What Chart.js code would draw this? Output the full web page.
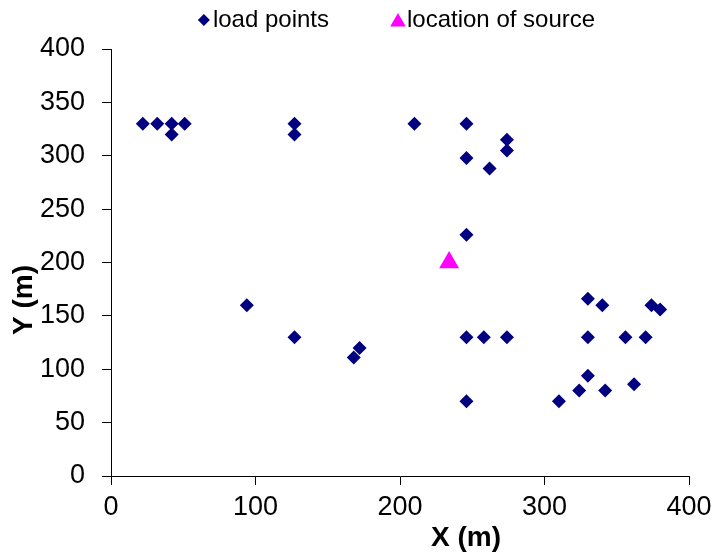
<!DOCTYPE html>
<html>
<head>
<meta charset="utf-8">
<script src="https://cdn.jsdelivr.net/npm/chart.js@4.4.1/dist/chart.umd.min.js"></script>
<style>
  html, body { margin: 0; padding: 0; background: #fff; }
</style>
</head>
<body>
<canvas id="chart-area" width="713" height="553"></canvas>
<script>
// load point coordinates (m)
var loadX = [22, 32, 42, 51, 42, 127, 127, 210, 246, 274, 274, 246, 262, 246,
             94, 127, 172, 168, 330, 340, 374, 380, 246, 258, 274, 330, 356, 370,
             330, 324, 342, 362, 246, 310];
var loadY = [330, 330, 330, 330, 320, 330, 320, 330, 330, 315, 305, 298, 288, 226,
             160, 130, 120, 111, 166, 160, 160, 156, 130, 130, 130, 130, 130, 130,
             94, 80, 80, 86, 70, 70];
// source location (m)
var sourceX = [234];
var sourceY = [200];

var xTicks = [0, 100, 200, 300, 400];
var yTicks = [0, 50, 100, 150, 200, 250, 300, 350, 400];

var toPoints = function(xs, ys) {
    return xs.map(function(x, i) { return {x: x, y: ys[i]}; });
};

var fontFamily = '"Liberation Sans", Arial, sans-serif';

// legend + axis titles drawn on the canvas
var extraText = {
    id: 'extraText',
    afterDraw: function(chart) {
        var ctx = chart.ctx;
        var area = chart.chartArea;
        ctx.save();
        ctx.fillStyle = '#000';
        ctx.font = 'bold 28px ' + fontFamily;
        ctx.textAlign = 'center';
        ctx.textBaseline = 'middle';
        ctx.fillText('X (m)', 466, 538);
        ctx.save();
        ctx.translate(24, 300);
        ctx.rotate(-Math.PI / 2);
        ctx.fillText('Y (m)', 0, 0);
        ctx.restore();

        // legend
        ctx.font = '24px ' + fontFamily;
        ctx.textAlign = 'left';
        var sets = chart.data.datasets;
        var gap = 58;
        var widths = sets.map(function(ds) { return 20 + ctx.measureText(ds.label).width; });
        var total = widths.reduce(function(a, b) { return a + b; }, 0) + gap * (sets.length - 1);
        var x = (area.left + area.right) / 2 - total / 2;
        var y = 20;
        sets.forEach(function(ds, i) {
            ctx.fillStyle = ds.backgroundColor;
            Chart.helpers.drawPoint(ctx, {
                pointStyle: ds.pointStyle,
                radius: ds.pointStyle === 'triangle' ? 9 : 6,
                rotation: 0,
                borderWidth: 0
            }, x + 5, ds.pointStyle === 'triangle' ? y + 2 : y);
            ctx.fillStyle = '#000';
            ctx.fillText(ds.label, x + 14, y);
            x += widths[i] + gap;
        });
        ctx.restore();
    }
};

var config = {
    type: 'scatter',
    data: {
        datasets: [{
            label: 'load points',
            data: toPoints(loadX, loadY),
            pointStyle: 'rectRot',
            pointRadius: 7,
            pointHoverRadius: 7,
            backgroundColor: '#000080',
            borderColor: '#000080',
            borderWidth: 0
        }, {
            label: 'location of source',
            data: toPoints(sourceX, sourceY),
            pointStyle: 'triangle',
            pointRadius: 11.5,
            pointHoverRadius: 11.5,
            backgroundColor: '#FF00FF',
            borderColor: '#FF00FF',
            borderWidth: 0
        }]
    },
    options: {
        responsive: false,
        animation: false,
        layout: {
            padding: {top: 49, right: 0, bottom: 0, left: 0}
        },
        plugins: {
            legend: {display: false},
            tooltip: {enabled: false}
        },
        scales: {
            x: {
                type: 'linear',
                min: 0,
                max: 400,
                afterFit: function(scale) {
                    scale.height = 77;
                    scale.paddingRight = 24;
                },
                afterBuildTicks: function(scale) {
                    scale.ticks = xTicks.map(function(v) { return {value: v}; });
                },
                grid: {
                    drawOnChartArea: false,
                    drawTicks: true,
                    tickLength: 9,
                    color: '#000'
                },
                border: {display: true, color: '#000', width: 1},
                ticks: {
                    color: '#000',
                    padding: 6,
                    maxRotation: 0,
                    font: {family: fontFamily, size: 27}
                }
            },
            y: {
                type: 'linear',
                min: 0,
                max: 400,
                afterFit: function(scale) { scale.width = 111; },
                afterBuildTicks: function(scale) {
                    scale.ticks = yTicks.map(function(v) { return {value: v}; });
                },
                grid: {
                    drawOnChartArea: false,
                    drawTicks: true,
                    tickLength: 9,
                    color: '#000'
                },
                border: {display: true, color: '#000', width: 1},
                ticks: {
                    color: '#000',
                    padding: 17,
                    font: {family: fontFamily, size: 27}
                }
            }
        }
    },
    plugins: [extraText]
};

var ctx = document.getElementById("chart-area").getContext("2d");
var myChart = new Chart(ctx, config);
</script>
</body>
</html>
